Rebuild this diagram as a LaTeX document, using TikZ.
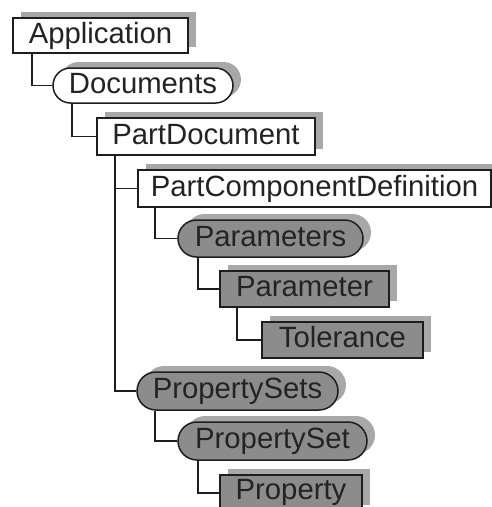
\documentclass[tikz,border=0pt]{standalone}
\usepackage{fontspec}
\setmainfont{Liberation Sans}
\usetikzlibrary{shapes.misc,shadows}
\definecolor{nodegray}{RGB}{140,140,140}
\definecolor{shadegray}{RGB}{168,168,168}
\definecolor{edgecol}{RGB}{30,30,30}
\definecolor{textcol}{RGB}{35,35,35}
\tikzset{
  base/.style={draw=edgecol, line width=1.5pt, inner sep=0pt, text=textcol,
    text height=21pt, text depth=6pt,
    font=\fontsize{29.3}{31}\selectfont,
    general shadow={shadow xshift=8pt, shadow yshift=6pt, fill=shadegray}},
  wbox/.style={base, rectangle, fill=white},
  gbox/.style={base, rectangle, fill=nodegray},
  wpill/.style={base, rounded rectangle, fill=white},
  gpill/.style={base, rounded rectangle, fill=nodegray},
  conn/.style={draw=edgecol, line width=1.6pt}
}
\begin{document}
\begin{tikzpicture}[x=1pt,y=-1pt]
\useasboundingbox (0,0) rectangle (492,507);
\clip (0,0) rectangle (492,507);
\node[wbox, minimum width=175pt, minimum height=35pt] (app) at (100.5,35.5) {Application};
\node[wpill, minimum width=180pt, minimum height=35pt] (doc) at (143,85.5) {Documents};
\node[wbox, minimum width=218pt, minimum height=37pt] (pd) at (206,136.5) {PartDocument};
\node[wbox, minimum width=353pt, minimum height=37pt] (pcd) at (314.5,188.5) {PartComponentDefinition};
\node[gpill, minimum width=185pt, minimum height=37pt] (params) at (270.5,238.5) {Parameters};
\node[gbox, minimum width=169pt, minimum height=36pt] (param) at (304.5,289) {Parameter};
\node[gbox, minimum width=161pt, minimum height=36pt] (tol) at (342.5,340) {Tolerance};
\node[gpill, minimum width=201pt, minimum height=38pt] (psets) at (237.5,391) {PropertySets};
\node[gpill, minimum width=189pt, minimum height=38pt] (pset) at (272.5,441) {PropertySet};
\node[gbox, minimum width=142pt, minimum height=36pt, text depth=9pt] (prop) at (291,493) {Property};

\draw[conn] ([xshift=-68.5pt]app.south) |- (doc.west);
\draw[conn] ([xshift=-71pt]doc.south) |- (pd.west);
\draw[conn] ([xshift=-91pt]pd.south) |- (pcd.west);
\draw[conn] ([xshift=-91pt]pd.south) |- (psets.west);
\draw[conn] ([xshift=-159.5pt]pcd.south) |- (params.west);
\draw[conn] ([xshift=-72.5pt]params.south) |- (param.west);
\draw[conn] ([xshift=-67.5pt]param.south) |- (tol.west);
\draw[conn] ([xshift=-82.5pt]psets.south) |- (pset.west);
\draw[conn] ([xshift=-74.5pt]pset.south) |- (prop.west);
\end{tikzpicture}
\end{document}
